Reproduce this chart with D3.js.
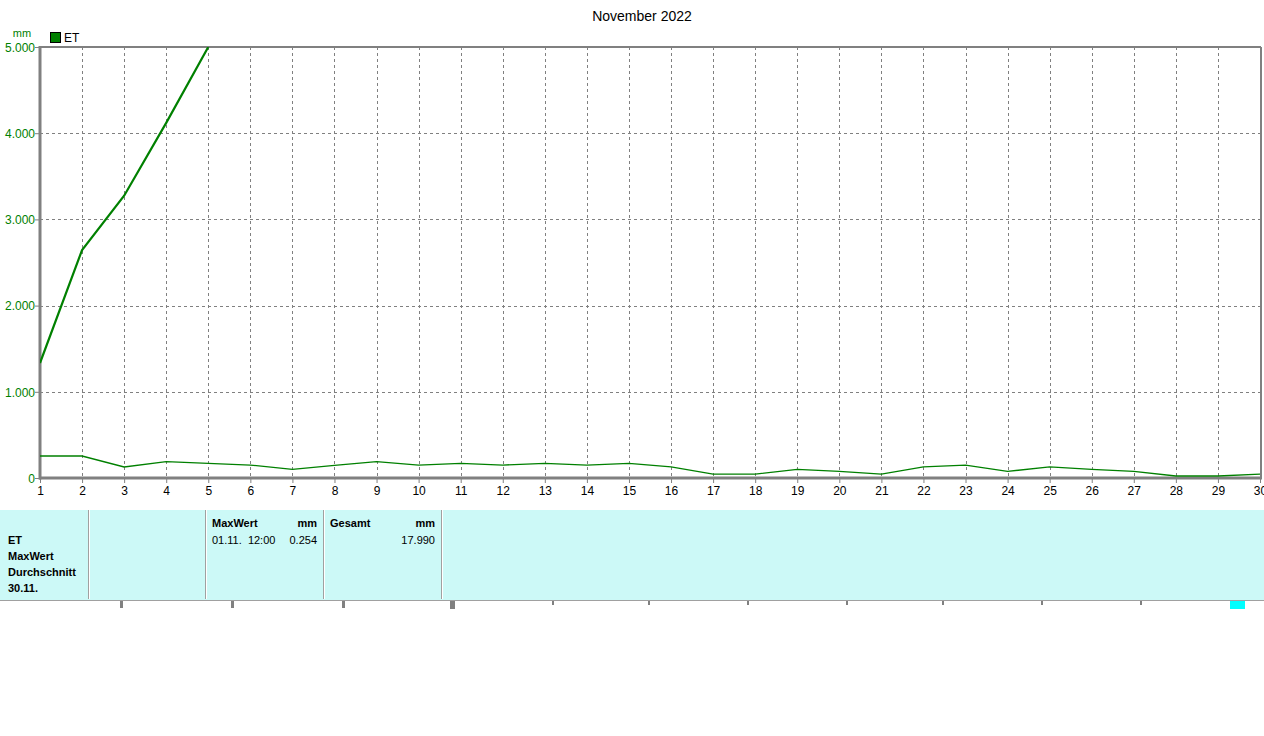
<!DOCTYPE html>
<html><head><meta charset="utf-8">
<script src="https://cdn.jsdelivr.net/npm/d3@7"></script>
<style>
html,body{margin:0;padding:0;background:#fff;}
svg{display:block;font-family:"Liberation Sans",Arial,sans-serif;}
</style></head>
<body>
<svg id="c" width="1264" height="736"></svg>
<script>
const title = "November 2022";
const days = d3.range(1, 31);
const etDaily = [0.255,0.255,0.128,0.19,0.17,0.15,0.10,0.147,0.19,0.15,0.17,0.15,0.17,0.15,0.17,0.128,0.046,0.046,0.10,0.077,0.046,0.128,0.15,0.077,0.128,0.10,0.077,0.023,0.023,0.046];
const cumDays = [1,2,3,4,5];
const etCum = [1.334,2.645,3.275,4.12,5.0];
const yTicks = [0,1,2,3,4,5];
const yTickLabels = ["0","1.000","2.000","3.000","4.000","5.000"];
const panelLabels = ["ET","MaxWert","Durchschnitt","30.11."];
const maxHeader = ["MaxWert","mm"];
const maxRow = ["01.11.  12:00","0.254"];
const sumHeader = ["Gesamt","mm"];
const sumRow = ["17.990"];
const footerTicks = [121,232,343,453,553,649,748,847,943,1042,1141];

const svg = d3.select("#c");
const M = {l:40, r:1260, t:47, b:478};
const x = d3.scaleLinear().domain([1,30]).range([M.l, M.r]);
const y = d3.scaleLinear().domain([0,5]).range([M.b, M.t]);
const green = "#008000", gray = "#808080";

svg.append("text").attr("x",642).attr("y",21).attr("text-anchor","middle")
  .attr("font-size",14).attr("fill","#000").text(title);

// grid
const g = svg.append("g");
g.selectAll(".vg").data(days.slice(1,-1)).join("line")
  .attr("x1",d=>Math.round(x(d))+0.5).attr("x2",d=>Math.round(x(d))+0.5)
  .attr("y1",M.t).attr("y2",M.b)
  .attr("stroke",gray).attr("stroke-dasharray","3,3");
g.selectAll(".hg").data(yTicks.slice(1,-1)).join("line")
  .attr("x1",M.l).attr("x2",M.r)
  .attr("y1",d=>Math.round(y(d))+0.5).attr("y2",d=>Math.round(y(d))+0.5)
  .attr("stroke",gray).attr("stroke-dasharray","3,3");

// axes
const yAxis = d3.axisLeft(y).tickValues(yTicks).tickSize(4)
  .tickFormat((d,i)=>yTickLabels[i]);
const ya = svg.append("g").attr("transform",`translate(${M.l-1},0)`).call(yAxis);
ya.select(".domain").remove();
ya.selectAll("line").attr("stroke",gray);
ya.selectAll("text").attr("fill",green).attr("font-size",12).attr("font-family","Liberation Sans,Arial,sans-serif").attr("dy","0.35em").attr("x",-4);

const xAxis = d3.axisBottom(x).tickValues(days).tickSize(4).tickFormat(d3.format("d"));
const xa = svg.append("g").attr("transform",`translate(0,${M.b+1})`).call(xAxis);
xa.select(".domain").remove();
xa.selectAll("line").attr("stroke",gray);
xa.selectAll("text").attr("fill","#000").attr("font-size",12).attr("font-family","Liberation Sans,Arial,sans-serif").attr("y",7);

svg.append("text").attr("x",22).attr("y",37).attr("text-anchor","middle")
  .attr("fill",green).attr("font-size",11).text("mm");

// frame
svg.append("line").attr("x1",M.l-1).attr("x2",M.r+1).attr("y1",M.t).attr("y2",M.t).attr("stroke",gray).attr("stroke-width",2);
svg.append("line").attr("x1",M.r+1).attr("x2",M.r+1).attr("y1",M.t).attr("y2",M.b).attr("stroke",gray).attr("stroke-width",2);
svg.append("line").attr("x1",M.l).attr("x2",M.l).attr("y1",M.t-1).attr("y2",M.b+1.5).attr("stroke",gray).attr("stroke-width",3);
svg.append("line").attr("x1",M.l-1).attr("x2",M.r+2).attr("y1",M.b).attr("y2",M.b).attr("stroke",gray).attr("stroke-width",3);

// legend
svg.append("rect").attr("x",50.5).attr("y",32.5).attr("width",10).attr("height",10)
  .attr("fill",green).attr("stroke","#000");
svg.append("text").attr("x",64).attr("y",42).attr("font-size",12).attr("fill","#000").text("ET");

// lines
svg.append("clipPath").attr("id","clip").append("rect").attr("x",M.l).attr("y",M.t).attr("width",M.r-M.l).attr("height",M.b-M.t);
const line = d3.line().x(d=>x(d[0])).y(d=>y(d[1]));
svg.append("path").attr("clip-path","url(#clip)")
  .attr("d",line(days.map((d,i)=>[d,etDaily[i]])))
  .attr("fill","none").attr("stroke",green).attr("stroke-width",1.3);
svg.append("path").attr("clip-path","url(#clip)")
  .attr("d",line(cumDays.map((d,i)=>[d,etCum[i]])))
  .attr("fill","none").attr("stroke",green).attr("stroke-width",2.2);

// panel
const P = {t:510, b:600};
svg.append("rect").attr("x",0).attr("y",P.t).attr("width",1264).attr("height",P.b-P.t).attr("fill","#ccf9f7");
svg.append("line").attr("x1",0).attr("x2",1264).attr("y1",P.b+0.5).attr("y2",P.b+0.5).attr("stroke","#a0a0a0");
[88,205,323,441].forEach(xx=>{
  svg.append("line").attr("x1",xx+0.5).attr("x2",xx+0.5).attr("y1",P.t).attr("y2",P.b-1).attr("stroke","#a0a0a0");
  svg.append("line").attr("x1",xx+1.5).attr("x2",xx+1.5).attr("y1",P.t).attr("y2",P.b-1).attr("stroke","#ffffff");
});
const tp = svg.append("g").attr("font-size",11).attr("fill","#000");
panelLabels.forEach((t,i)=>tp.append("text").attr("x",8).attr("y",544+i*16).attr("font-weight","bold").text(t));
tp.append("text").attr("x",212).attr("y",527).attr("font-weight","bold").text(maxHeader[0]);
tp.append("text").attr("x",317).attr("y",527).attr("font-weight","bold").attr("text-anchor","end").text(maxHeader[1]);
tp.append("text").attr("x",212).attr("y",544).attr("xml:space","preserve").style("white-space","pre").text(maxRow[0]);
tp.append("text").attr("x",317).attr("y",544).attr("text-anchor","end").text(maxRow[1]);
tp.append("text").attr("x",330).attr("y",527).attr("font-weight","bold").text(sumHeader[0]);
tp.append("text").attr("x",435).attr("y",527).attr("font-weight","bold").attr("text-anchor","end").text(sumHeader[1]);
tp.append("text").attr("x",435).attr("y",544).attr("text-anchor","end").text(sumRow[0]);

// footer ticks
svg.selectAll(".ft").data(footerTicks).join("rect")
  .attr("x",d=>d===453?d-3:(d<453?d-1:d-1)).attr("y",601)
  .attr("width",d=>d===453?5:(d<453?3:2)).attr("height",d=>d===453?8:(d<453?7:4))
  .attr("fill",gray);
svg.append("rect").attr("x",1230).attr("y",601).attr("width",15).attr("height",8).attr("fill","#00ffff");
</script>
</body></html>
